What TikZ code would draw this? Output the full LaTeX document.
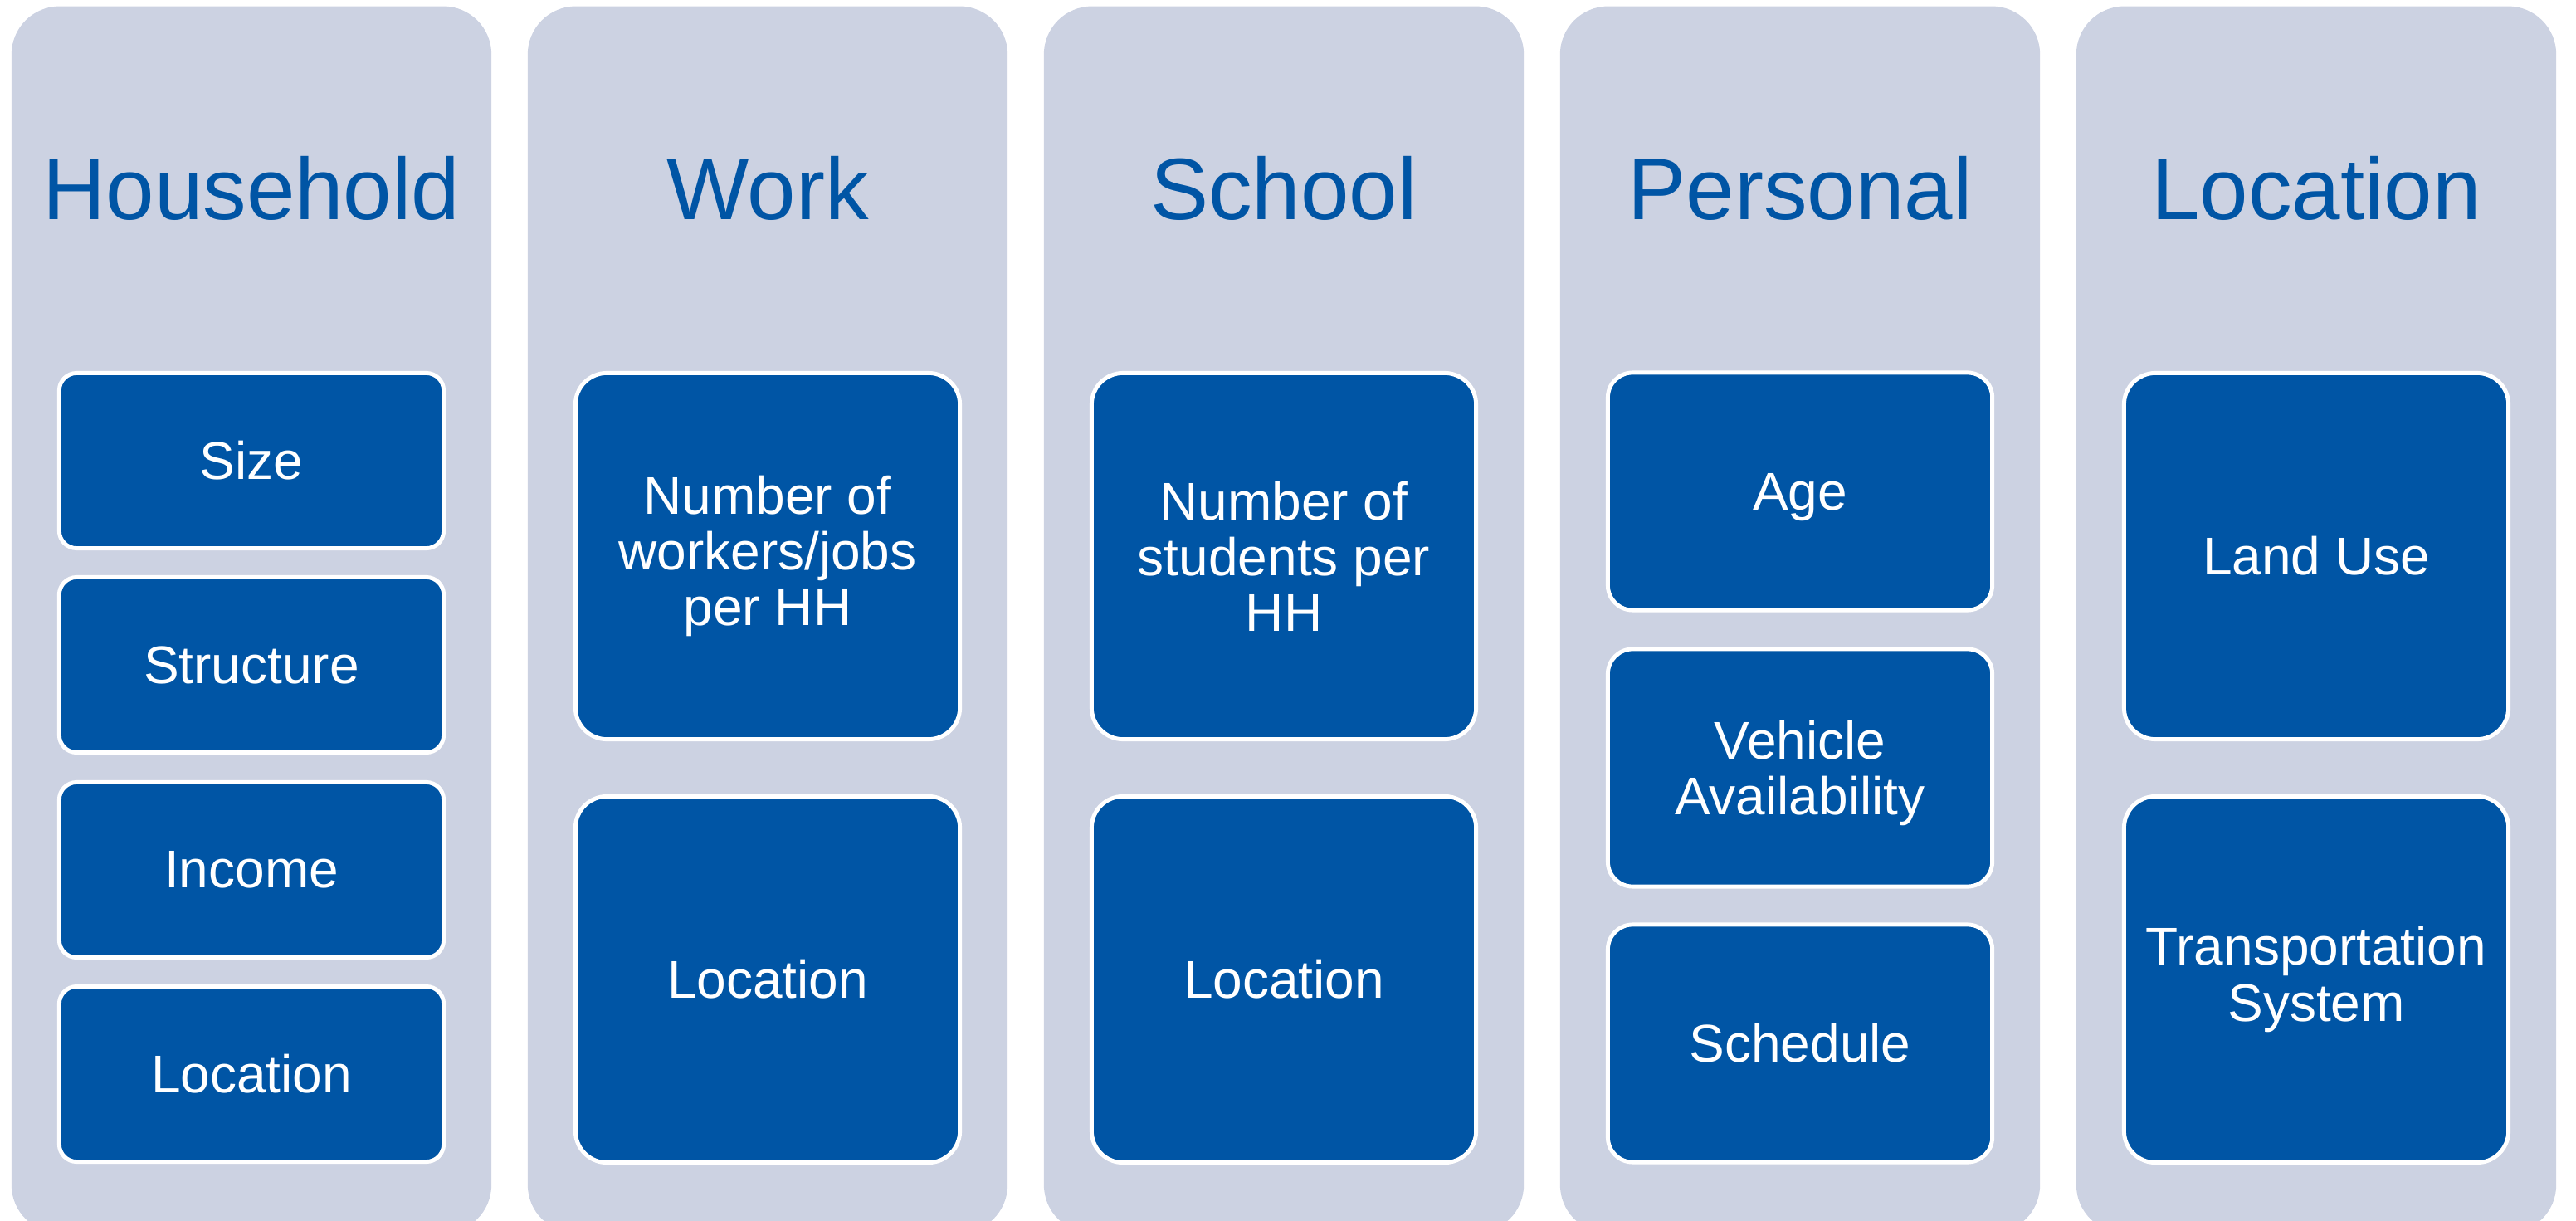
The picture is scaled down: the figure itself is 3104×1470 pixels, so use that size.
\documentclass[tikz,border=0pt]{standalone}
\usepackage{fontspec}
\setmainfont{Liberation Sans}
\definecolor{panelgrey}{RGB}{204,210,226}
\definecolor{itemblue}{RGB}{0,85,165}
\tikzset{
    panel/.style={fill=panelgrey, rounded corners=0.58cm, minimum width=5.78cm, minimum height=14.77cm, inner sep=0pt},
    heading/.style={text=itemblue, anchor=base, inner sep=0pt, font=\fontsize{29.9}{32}\selectfont},
    item/.style={fill=itemblue, draw=white, line width=1.4pt, text=white, align=center, inner sep=0pt, minimum width=4.63cm, font=\fontsize{18.2}{19.1}\selectfont},
}
\begin{document}
\begin{tikzpicture}[x=0.01cm,y=-0.01cm]
        \useasboundingbox (0,0) rectangle (3104,1470);

        %HOUSEHOLD
        \begin{scope}[shift={(0,0)}]
            \node[panel] (HHpanel) at (303,746.5) {};
            \node[heading] (HHtitle) at (303,265) {Household};
            \node[item, minimum height=2.11cm, rounded corners=0.21cm] (HHsize) at (303,555) {Size};
            \node[item, minimum height=2.11cm, rounded corners=0.21cm] (HHstructure) at (303,801) {Structure};
            \node[item, minimum height=2.11cm, rounded corners=0.21cm] (HHincome) at (303,1048) {Income};
            \node[item, minimum height=2.11cm, rounded corners=0.21cm] (HHlocation) at (303,1294) {Location};
        \end{scope}

        %WORK
        \begin{scope}[shift={(622,0)}]
            \node[panel] (Workpanel) at (303,746.5) {};
            \node[heading] (Worktitle) at (303,265) {Work};
            \node[item, minimum height=4.41cm, rounded corners=0.38cm] (Workjobs) at (303,670) {Number of\\workers/jobs\\per HH};
            \node[item, minimum height=4.41cm, rounded corners=0.38cm] (Worklocation) at (303,1180) {Location};
        \end{scope}

        %SCHOOL
        \begin{scope}[shift={(1244,0)}]
            \node[panel] (Schoolpanel) at (303,746.5) {};
            \node[heading] (Schooltitle) at (303,265) {School};
            \node[item, minimum height=4.41cm, rounded corners=0.38cm] (Schoolstudents) at (303,670) {Number of\\students per\\HH};
            \node[item, minimum height=4.41cm, rounded corners=0.38cm] (Schoollocation) at (303,1180) {Location};
        \end{scope}

        %PERSONAL
        \begin{scope}[shift={(1866,0)}]
            \node[panel] (Perspanel) at (303,746.5) {};
            \node[heading] (Perstitle) at (303,265) {Personal};
            \node[item, minimum height=2.86cm, rounded corners=0.3cm, text depth=0pt] (Persage) at (303,592) {Age};
            \node[item, minimum height=2.86cm, rounded corners=0.3cm, text depth=0pt] (Persvehicle) at (303,925) {Vehicle\\Availability};
            \node[item, minimum height=2.86cm, rounded corners=0.3cm] (Persschedule) at (303,1257) {Schedule};
        \end{scope}

        %LOCATION
        \begin{scope}[shift={(2488,0)}]
            \node[panel] (Locpanel) at (303,746.5) {};
            \node[heading] (Loctitle) at (303,265) {Location};
            \node[item, minimum height=4.41cm, rounded corners=0.38cm] (Loclanduse) at (303,670) {Land Use};
            \node[item, minimum height=4.41cm, rounded corners=0.38cm] (Loctransport) at (303,1180) {Transportation\\System};
        \end{scope}
    \end{tikzpicture}
\end{document}
